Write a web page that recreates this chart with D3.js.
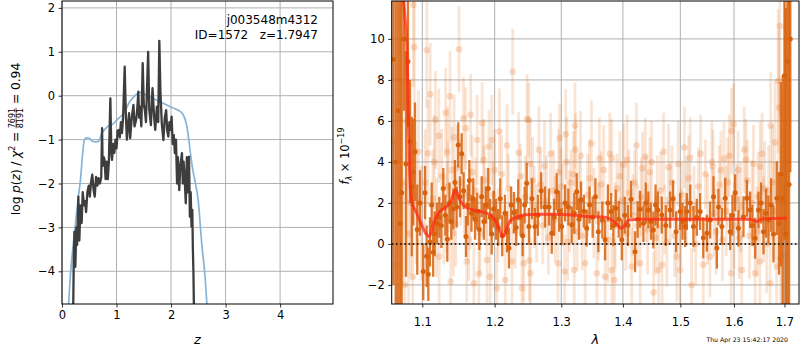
<!DOCTYPE html>
<html>
<head>
<meta charset="utf-8">
<script src="https://cdn.jsdelivr.net/npm/d3@7"></script>
<style>
body { margin: 0; background: #fff; }
svg { font-family: "DejaVu Sans", sans-serif; }
</style>
</head>
<body>
<svg id="chart" width="800" height="350"></svg>
<script>
// ---- left panel: p(z) ----
var zTicks = [0, 1, 2, 3, 4];
var pTicks = [-4, -3, -2, -1, 0, 1, 2];

// chi2 curve (blue)
var chiZ = [0.10, 0.16, 0.24, 0.30, 0.34, 0.38, 0.41, 0.45, 0.50, 0.56,
            0.62, 0.67, 0.73, 0.83, 0.92, 1.01, 1.13, 1.25, 1.32, 1.40,
            1.46, 1.52, 1.61, 1.70, 1.80, 1.90, 1.98, 2.08, 2.17, 2.24,
            2.29, 2.32, 2.36, 2.40, 2.44, 2.50, 2.56, 2.62, 2.68];
var chiP = [-5.2, -4.0, -3.0, -2.3, -1.9, -1.3, -1.0, -0.96, -0.97, -1.04,
            -1.05, -1.04, -0.86, -0.71, -0.66, -0.55, -0.4, -0.12, -0.02, 0.06,
            0.08, 0.03, -0.03, -0.08, -0.14, -0.2, -0.25, -0.3, -0.36, -0.48,
            -0.7, -0.95, -1.35, -1.7, -1.95, -2.41, -3.33, -4.08, -5.2];

// log p(z) (dark)
var pzZ = [0.205, 0.215, 0.228, 0.245, 0.262, 0.278, 0.300, 0.318, 0.338, 0.360,
           0.380, 0.405, 0.425, 0.442, 0.465, 0.490, 0.510, 0.535, 0.555, 0.580,
           0.600, 0.625, 0.650, 0.670, 0.695, 0.720, 0.735, 0.745, 0.765, 0.780,
           0.800, 0.820, 0.840, 0.860, 0.887, 0.905, 0.917, 0.940, 0.960, 0.980,
           1.000, 1.020, 1.040, 1.060, 1.080, 1.100, 1.120, 1.150, 1.170, 1.190,
           1.210, 1.230, 1.250, 1.280, 1.310, 1.330, 1.360, 1.380, 1.400, 1.415,
           1.430, 1.455, 1.480, 1.500, 1.520, 1.540, 1.560, 1.580, 1.600, 1.630,
           1.660, 1.690, 1.710, 1.740, 1.765, 1.785, 1.805, 1.830, 1.860, 1.885,
           1.910, 1.930, 1.950, 1.970, 1.990, 2.010, 2.030, 2.050, 2.070, 2.090,
           2.110, 2.125, 2.150, 2.170, 2.200, 2.215, 2.230, 2.250, 2.270, 2.290,
           2.310, 2.330, 2.345, 2.360, 2.375, 2.390, 2.400, 2.410, 2.420];
var pzP = [-4.9, -3.8, -3.1, -3.9, -3.0, -3.4, -2.3, -3.3, -2.5, -2.9,
           -2.2, -2.5, -2.4, -2.65, -2.2, -2.05, -2.3, -1.95, -1.8, -2.15,
           -2.3, -1.85, -2.05, -1.88, -2.0, -1.85, -0.74, -1.6, -1.4, -1.46,
           -1.9, -1.5, -1.9, -1.5, -0.06, -1.3, -1.46, -1.1, -1.3, -1.0,
           -1.2, -0.8, -0.78, -0.95, -0.6, -0.85, -0.5, 0.66, -0.4, -1.0,
           -0.7, -0.4, -0.97, -0.5, -0.21, -0.7, -0.55, -0.3, 0.09, -0.5,
           -0.25, -0.7, 0.74, -0.2, -0.33, -0.6, 0.2, 1.0, -0.3, -0.67,
           0.17, -0.5, -0.78, -0.25, -0.6, 1.25, 0.1, -0.63, -1.01, -0.5,
           -0.33, -0.8, -0.93, -0.6, -0.78, -0.48, -1.1, -0.9, -1.31, -1.0,
           -2.0, -1.4, -2.15, -1.6, -1.31, -2.0, -1.5, -1.9, -2.45, -1.4,
           -2.2, -1.39, -2.76, -2.2, -2.98, -2.6, -3.48, -4.0, -4.9];

// ---- right panel: spectrum ----
var lamTicks = [1.1, 1.2, 1.3, 1.4, 1.5, 1.6, 1.7];
var fTicks = [-2, 0, 2, 4, 6, 8, 10];

var darkWave = [
  1.0625, 1.0655, 1.0685, 1.0712, 1.0731, 1.0760, 1.0787, 1.0812, 1.0840, 1.0862,
  1.0881, 1.0904, 1.0934, 1.0970, 1.1013, 1.1036, 1.1058, 1.1080, 1.1102, 1.1125,
  1.1145, 1.1165, 1.1195, 1.1227, 1.1255, 1.1281, 1.1310, 1.1336, 1.1365, 1.1390,
  1.1418, 1.1440, 1.1464, 1.1486, 1.1510, 1.1533, 1.1560, 1.1593, 1.1618, 1.1640,
  1.1670, 1.1695, 1.1720, 1.1750, 1.1780, 1.1814, 1.1845, 1.1875, 1.1908, 1.1935,
  1.1957, 1.1985, 1.2019, 1.2050, 1.2080, 1.2110, 1.2149, 1.2180, 1.2208, 1.2240,
  1.2281, 1.2315, 1.2345, 1.2380, 1.2410, 1.2440, 1.2471, 1.2505, 1.2550, 1.2595,
  1.2640, 1.2690, 1.2749, 1.2810, 1.2852, 1.2890, 1.2929, 1.2968, 1.3007, 1.3060,
  1.3111, 1.3165, 1.3205, 1.3244, 1.3280, 1.3313, 1.3360, 1.3404, 1.3450, 1.3500,
  1.3545, 1.3593, 1.3658, 1.3703, 1.3750, 1.3802, 1.3840, 1.3880, 1.3930, 1.3981,
  1.4030, 1.4085, 1.4138, 1.4206, 1.4250, 1.4292, 1.4349, 1.4390, 1.4435, 1.4480,
  1.4522, 1.4560, 1.4599, 1.4670, 1.4740, 1.4817, 1.4870, 1.4925, 1.4997, 1.5040,
  1.5088, 1.5118, 1.5180, 1.5238, 1.5300, 1.5362, 1.5420, 1.5486, 1.5548, 1.5610,
  1.5673, 1.5704, 1.5768, 1.5831, 1.5926, 1.5970, 1.6022, 1.6086, 1.6183, 1.6250,
  1.6314, 1.6360, 1.6412, 1.6478, 1.6530, 1.6577, 1.6630, 1.6677, 1.6730, 1.6777,
  1.6846, 1.6890, 1.6927, 1.6965, 1.7000, 1.7030, 1.7062, 1.7095, 1.7120];
var darkFlux = [
  9.0, 4.0, 6.5, 1.0, 2.5, 10.0, 3.9, 8.9, 5.0, 2.8,
  3.5, 4.5, 0.7, 2.0, -1.35, 2.5, -0.6, -1.48, 0.1, 1.9,
  -0.4, 0.5, 1.0, 1.3, 0.9, 2.7, 1.4, 0.23, 2.0, 1.1,
  1.7, 3.0, 1.8, 4.83, 2.3, 4.4, 2.6, 0.36, 1.9, 3.1,
  1.5, 2.2, 1.2, 1.6, 0.7, 2.3, 1.1, 1.9, 2.7, 1.3,
  0.49, 1.7, 1.2, 0.8, 2.2, 0.4, 1.5, 0.6, -0.2, 1.9,
  1.53, 0.8, 2.15, 1.3, 0.4, 1.9, 2.96, 0.85, 2.2, 0.85,
  1.4, 2.6, 1.8, 1.8, 0.52, 1.3, 2.55, 1.6, 0.85, 2.0,
  1.8, 0.93, 1.5, 2.55, 1.2, 2.15, 1.6, 0.77, 1.9, 1.3,
  2.3, 0.6, 1.17, 0.2, 2.0, 1.58, 0.9, 1.74, 1.2, 0.2,
  1.4, 0.9, 2.18, -0.38, 1.2, 1.69, 1.0, 2.0, 1.66, 1.1,
  0.68, 1.9, 1.66, 1.41, 0.9, 1.66, 2.2, 0.6, 1.58, 1.1,
  0.85, 1.58, 2.0, 0.85, 1.3, 1.58, 0.3, 0.52, 1.17, 2.3,
  -0.2, 1.8, 0.85, 2.23, 0.6, 1.4, 2.5, 0.77, 1.33, 2.23,
  1.66, 0.9, 0.28, 1.66, 2.0, 0.6, 1.5, 1.17, 1.9, 0.49,
  2.23, 1.0, 3.4, 2.2, 8.2, 0.5, 8.9, 2.9, 10.0];
var darkErr = [
  11, 13, 10, 12, 10, 3.5, 5.5, 3.2, 3.0, 3.4,
  2.6, 2.4, 2.2, 1.6, 1.4, 1.3, 1.5, 1.3, 1.2, 1.1,
  1.2, 1.1, 1.0, 1.0, 1.1, 1.0, 1.0, 1.1, 1.0, 0.9,
  1.0, 1.1, 1.0, 1.1, 1.0, 1.0, 0.9, 1.0, 1.0, 1.0,
  0.9, 1.0, 1.0, 0.9, 1.0, 1.0, 0.9, 0.9, 1.0, 0.9,
  1.0, 0.9, 1.0, 0.9, 1.0, 1.0, 0.9, 1.0, 1.0, 0.9,
  1.0, 0.9, 1.0, 0.9, 1.0, 0.9, 1.0, 0.9, 1.0, 0.9,
  1.0, 0.9, 1.0, 0.9, 1.0, 0.9, 0.9, 1.0, 0.9, 0.9,
  0.9, 0.9, 1.0, 0.9, 1.0, 0.9, 0.8, 0.9, 0.9, 1.0,
  0.9, 1.0, 0.9, 1.0, 0.9, 0.9, 1.0, 0.9, 0.9, 1.0,
  0.9, 1.0, 0.9, 1.0, 0.9, 0.9, 0.9, 1.0, 0.9, 0.9,
  0.9, 1.0, 0.9, 0.9, 1.0, 0.9, 0.9, 1.0, 0.9, 0.9,
  1.0, 0.9, 0.9, 1.0, 0.9, 0.9, 1.0, 0.9, 0.9, 1.0,
  1.0, 0.9, 0.9, 1.0, 0.9, 1.0, 0.9, 0.9, 1.0, 0.9,
  0.9, 1.0, 1.0, 0.9, 1.0, 1.1, 1.2, 1.2, 1.3, 1.4,
  1.8, 2.5, 4.5, 6, 8, 11, 12, 15, 6.5];

var faintWave = [
  1.0630, 1.0660, 1.0700, 1.0740, 1.0770, 1.0800, 1.0820, 1.0850, 1.0875, 1.0883,
  1.0896, 1.0920, 1.0948, 1.0985, 1.1040, 1.1061, 1.1075, 1.1106, 1.1140, 1.1175,
  1.1190, 1.1221, 1.1224, 1.1260, 1.1290, 1.1313, 1.1337, 1.1350, 1.1373, 1.1382,
  1.1400, 1.1419, 1.1428, 1.1450, 1.1497, 1.1520, 1.1558, 1.1570, 1.1590, 1.1604,
  1.1630, 1.1659, 1.1680, 1.1704, 1.1730, 1.1751, 1.1774, 1.1790, 1.1820, 1.1850,
  1.1880, 1.1889, 1.1917, 1.1935, 1.1959, 1.1980, 1.2030, 1.2050, 1.2069, 1.2100,
  1.2153, 1.2200, 1.2253, 1.2263, 1.2300, 1.2352, 1.2380, 1.2402, 1.2426, 1.2450,
  1.2478, 1.2501, 1.2511, 1.2526, 1.2560, 1.2620, 1.2680, 1.2740, 1.2800, 1.2880,
  1.2949, 1.2960, 1.2974, 1.3020, 1.3054, 1.3070, 1.3100, 1.3150, 1.3205, 1.3216,
  1.3225, 1.3280, 1.3330, 1.3378, 1.3450, 1.3520, 1.3568, 1.3610, 1.3640, 1.3703,
  1.3750, 1.3812, 1.3815, 1.3855, 1.3900, 1.3950, 1.4012, 1.4050, 1.4100, 1.4148,
  1.4200, 1.4250, 1.4294, 1.4333, 1.4381, 1.4400, 1.4460, 1.4527, 1.4560, 1.4614,
  1.4650, 1.4674, 1.4720, 1.4789, 1.4850, 1.4900, 1.4937, 1.4995, 1.5030, 1.5074,
  1.5150, 1.5205, 1.5280, 1.5330, 1.5420, 1.5460, 1.5544, 1.5600, 1.5620, 1.5720,
  1.5780, 1.5809, 1.5880, 1.5946, 1.5952, 1.5994, 1.6050, 1.6100, 1.6150, 1.6198,
  1.6260, 1.6350, 1.6410, 1.6450, 1.6505, 1.6510, 1.6600, 1.6640, 1.6708, 1.6722,
  1.6760, 1.6808, 1.6841, 1.6873, 1.6887, 1.6907, 1.6920, 1.6950, 1.7000, 1.7040,
  1.2525, 1.2585, 1.2655, 1.2715, 1.2770, 1.2835, 1.2905, 1.2995, 1.3085, 1.3130,
  1.3190, 1.3250, 1.3305, 1.3420, 1.3480, 1.3595, 1.3680, 1.3780, 1.3870, 1.3975,
  1.4070, 1.4170, 1.4230, 1.4310, 1.4420, 1.4490, 1.4590, 1.4700, 1.4760, 1.4820,
  1.4960, 1.5010, 1.5110, 1.5180, 1.5250, 1.5370, 1.5500, 1.5580, 1.5660, 1.5750,
  1.5850, 1.5910, 1.6000, 1.6080, 1.6130, 1.6230, 1.6300, 1.6380, 1.6470, 1.6550,
  1.6580, 1.6680, 1.6790, 1.1160, 1.1330, 1.1470, 1.1650, 1.1840, 1.2000, 1.2180];
var faintFlux = [
  5.0, -1.0, 8.0, 3.0, -2.0, 6.0, 0.5, 2.0, -1.6, 11.65,
  9.6, 2.0, 4.5, 1.0, 3.0, 9.45, 4.42, 7.3, 2.2, 6.05,
  0.8, 5.27, -0.62, 3.3, 1.2, 6.4, 4.5, 2.8, 7.2, -1.84,
  3.6, 0.52, 5.2, 1.0, 9.5, 3.0, 6.13, 2.4, 5.64, -0.86,
  0.2, 6.3, 3.5, -1.92, 2.6, 5.07, -1.46, 0.5, 5.89, 3.1,
  1.8, -0.78, 4.75, -1.6, 5.07, 2.4, -2.16, 0.9, 5.48, 3.4,
  -1.76, 2.7, -0.86, 8.4, 0.6, 4.45, 3.3, -2.16, -0.94, 2.3,
  6.08, 6.05, -0.81, -1.43, 3.1, 1.0, 2.9, 3.8, 0.3, 2.6,
  -0.94, 3.5, 5.15, 1.9, -1.35, 5.35, 0.1, 3.0, -1.27, 5.77,
  4.59, 2.2, 0.4, -0.94, 3.2, 1.5, -1.43, 4.18, 2.9, -1.6,
  0.2, 4.18, -1.27, -1.76, 2.7, 3.3, 3.87, 0.5, 2.5, -1.1,
  3.0, 0.9, -0.94, 3.69, 4.26, 2.2, 3.5, -2.37, 0.3, -1.27,
  2.6, -1.02, 1.2, 3.74, 3.0, 0.4, -0.62, -1.27, 2.4, 4.7,
  3.2, -2.0, 0.0, 2.8, -1.02, 3.4, -0.62, 3.77, 1.5, 2.9,
  0.2, 4.15, 3.0, -1.43, 5.51, 5.84, 2.2, 0.3, -1.27, 4.59,
  3.1, 2.0, -1.43, 0.6, -0.86, 3.77, 2.7, 0.0, -1.92, 5.77,
  3.0, 4.96, -1.1, 7.95, 6.65, 10.63, -0.7, 2.0, -0.5, 4.0,
  3.9, 1.8, 4.6, 0.9, 2.1, 4.4, 1.2, 2.8, 4.0, 1.6,
  3.4, 0.6, 4.3, 2.4, 4.9, 1.1, 3.6, 4.4, 0.9, 2.1,
  4.1, 1.4, 4.8, 2.3, 0.7, 4.0, 2.2, 4.5, 0.1, 2.0,
  3.9, 0.8, 2.1, 4.2, 1.7, 4.4, 1.2, 4.0, 0.6, 3.6,
  1.6, 4.3, 0.9, 3.6, 1.8, 4.1, 0.4, 3.9, 2.3, 4.4,
  1.2, 2.6, 1.6, 4.0, 1.8, 3.7, 1.7, 4.1, 3.6, 4.8];
var faintErr = [
  7, 8, 6, 5, 5, 4, 4, 3.5, 3, 4,
  3.5, 3, 3, 2.8, 2.6, 2.8, 2.6, 2.5, 2.4, 2.4,
  2.4, 2.3, 2.3, 2.3, 2.2, 2.2, 2.2, 2.2, 2.2, 2.2,
  2.1, 2.1, 2.1, 2.1, 2.1, 2.1, 2.0, 2.0, 2.0, 2.0,
  2.0, 2.0, 1.8, 2.0, 1.6, 2.2, 1.8, 2.0, 2.0, 1.7,
  1.9, 2.1, 1.8, 2.0, 2.2, 1.6, 2.0, 1.8, 2.1, 1.9,
  2.0, 1.7, 2.2, 2.1, 1.8, 2.0, 1.6, 2.1, 1.9, 2.0,
  2.2, 1.8, 2.0, 1.7, 2.1, 1.9, 1.6, 2.2, 1.8, 2.0,
  1.9, 2.1, 1.7, 2.0, 1.8, 2.2, 1.9, 1.6, 2.0, 2.1,
  1.8, 2.0, 1.7, 2.1, 1.9, 2.2, 1.8, 2.0, 1.6, 2.0,
  2.1, 1.9, 1.8, 2.0, 1.7, 2.2, 2.0, 1.8, 2.1, 1.9,
  1.6, 2.0, 2.2, 1.8, 1.9, 2.1, 1.7, 2.0, 1.8, 2.2,
  1.9, 2.0, 1.7, 2.1, 1.8, 2.0, 2.2, 1.9, 1.6, 2.0,
  2.1, 1.8, 2.0, 1.9, 2.2, 1.7, 2.0, 1.8, 2.1, 1.9,
  2.0, 1.8, 2.2, 1.9, 2.1, 2.0, 1.7, 2.0, 1.9, 2.1,
  2.0, 2.1, 2.1, 2.2, 2.2, 2.2, 2.3, 2.4, 2.6, 2.6,
  2.8, 3.0, 3.2, 3.5, 3.8, 4.5, 4.5, 5, 6, 8,
  2.2, 2.0, 2.1, 1.9, 2.2, 2.0, 2.1, 1.9, 2.2, 2.0,
  2.1, 1.9, 2.2, 2.0, 2.1, 1.9, 2.2, 2.0, 2.1, 1.9,
  2.2, 2.0, 2.1, 1.9, 2.2, 2.0, 2.1, 1.9, 2.2, 2.0,
  2.1, 1.9, 2.2, 2.0, 2.1, 1.9, 2.2, 2.0, 2.1, 1.9,
  2.2, 2.0, 2.1, 1.9, 2.2, 2.0, 2.1, 1.9, 2.2, 2.0,
  2.1, 2.2, 2.4, 2.3, 2.2, 2.1, 2.0, 2.0, 2.0, 2.0];

// best-fit model (red)
var modelWave = [1.0740, 1.0775, 1.0798, 1.0814, 1.0830, 1.0845, 1.0865, 1.0900, 1.0950, 1.1000,
                 1.1050, 1.1093, 1.1130, 1.1170, 1.1236, 1.1300, 1.1380, 1.1451, 1.1500, 1.1580,
                 1.1700, 1.1800, 1.1886, 1.1960, 1.2030, 1.2080, 1.2124, 1.2170, 1.2230, 1.2320,
                 1.2450, 1.2700, 1.3000, 1.3485, 1.3700, 1.3850, 1.3980, 1.4050, 1.4100, 1.4300,
                 1.5000, 1.5700, 1.6300, 1.6400, 1.6445, 1.6500, 1.6700, 1.7050];
var modelFlux = [12.5, 11.0, 9.7, 6.8, 4.0, 2.6, 2.0, 1.7, 1.3, 0.85,
                 0.5, 0.36, 0.75, 1.2, 1.58, 1.75, 2.05, 2.63, 2.2, 1.82,
                 1.65, 1.58, 1.5, 1.35, 1.0, 0.6, 0.36, 0.7, 1.15, 1.3,
                 1.42, 1.45, 1.44, 1.33, 1.3, 1.1, 0.77, 1.0, 1.17, 1.2,
                 1.2, 1.21, 1.2, 1.13, 1.09, 1.18, 1.24, 1.25];

var svg = d3.select('#chart');
var gridColor = '#b0b0b0';
var tickFont = 11.5;

function drawGrid(g, x, y, xt, yt, box) {
    g.append('g').selectAll('line').data(xt).enter().append('line')
        .attr('x1', function(d) { return x(d); }).attr('x2', function(d) { return x(d); })
        .attr('y1', box.top).attr('y2', box.bottom)
        .attr('stroke', gridColor).attr('stroke-width', 1);
    g.append('g').selectAll('line').data(yt).enter().append('line')
        .attr('y1', function(d) { return y(d); }).attr('y2', function(d) { return y(d); })
        .attr('x1', box.left).attr('x2', box.right)
        .attr('stroke', gridColor).attr('stroke-width', 1);
}

function drawTicks(g, x, y, xt, yt, box, xfmt, yfmt, xpad) {
    var ax = g.append('g').attr('transform', 'translate(0,' + box.bottom + ')')
        .call(d3.axisBottom(x).tickValues(xt).tickFormat(xfmt).tickSizeInner(3.5).tickSizeOuter(0).tickPadding(xpad));
    var ay = g.append('g').attr('transform', 'translate(' + box.left + ',0)')
        .call(d3.axisLeft(y).tickValues(yt).tickFormat(yfmt).tickSizeInner(3.5).tickSizeOuter(0).tickPadding(3.5));
    [ax, ay].forEach(function(a) {
        a.select('.domain').remove();
        a.attr('font-size', tickFont).attr('font-family', '"DejaVu Sans", sans-serif');
        a.selectAll('line').attr('stroke', '#000').attr('stroke-width', 0.8);
        a.selectAll('text').attr('fill', '#000');
    });
    g.append('rect').attr('x', box.left).attr('y', box.top)
        .attr('width', box.right - box.left).attr('height', box.bottom - box.top)
        .attr('fill', 'none').attr('stroke', '#000').attr('stroke-width', 1);
}

function fmtMinus(d) { return d < 0 ? '\u2212' + Math.abs(d) : String(d); }

// rotated label made of pieces: {t, it, s, dy} or {gap} or {frac:[num, den]}
function mathLabel(px, py, fs, pieces) {
    var g = svg.append('g').attr('transform', 'translate(' + px + ',' + py + ') rotate(-90)');
    var inner = g.append('g');
    var cx = 0;
    pieces.forEach(function(p) {
        if (p.gap !== undefined) { cx += p.gap; return; }
        if (p.frac) {
            var n = inner.append('text').attr('font-size', 8).text(p.frac[0]);
            var dd = inner.append('text').attr('font-size', 8).text(p.frac[1]);
            var w = Math.max(n.node().getComputedTextLength(), dd.node().getComputedTextLength());
            n.attr('x', cx + w / 2).attr('y', -5.5).attr('text-anchor', 'middle');
            dd.attr('x', cx + w / 2).attr('y', 2.5).attr('text-anchor', 'middle');
            inner.append('line').attr('x1', cx).attr('x2', cx + w).attr('y1', -3.9).attr('y2', -3.9)
                .attr('stroke', '#000').attr('stroke-width', 0.6);
            cx += w + 1;
            return;
        }
        var t = inner.append('text').attr('x', cx).attr('y', p.dy || 0)
            .attr('font-size', p.s || fs)
            .attr('font-style', p.it ? 'italic' : 'normal').text(p.t);
        cx += t.node().getComputedTextLength();
    });
    inner.attr('transform', 'translate(' + (-cx / 2) + ',0)');
}

// ---------------- left panel ----------------
var L = {left: 62, right: 333, top: 1, bottom: 304};
var xz = d3.scaleLinear().domain([0, 4.97]).range([L.left, L.right]);
var yp = d3.scaleLinear().domain([-4.745, 2.157]).range([L.bottom, L.top]);
var gl = svg.append('g');
drawGrid(gl, xz, yp, zTicks, pTicks, L);

svg.append('clipPath').attr('id', 'clipL').append('rect')
    .attr('x', L.left).attr('y', L.top).attr('width', L.right - L.left).attr('height', L.bottom - L.top);
var plotL = gl.append('g').attr('clip-path', 'url(#clipL)');

var chiLine = d3.line().x(function(d, i) { return xz(chiZ[i]); }).y(function(d) { return yp(d); })
    .curve(d3.curveMonotoneX);
plotL.append('path').datum(chiP).attr('d', chiLine)
    .attr('fill', 'none').attr('stroke', '#86b4d8').attr('stroke-width', 1.7);

var pzLine = d3.line().x(function(d, i) { return xz(pzZ[i]); }).y(function(d) { return yp(d); });
plotL.append('path').datum(pzP).attr('d', pzLine)
    .attr('fill', 'none').attr('stroke', '#3d3d3d').attr('stroke-width', 2.3)
    .attr('stroke-linejoin', 'round');

drawTicks(gl, xz, yp, zTicks, pTicks, L, function(d) { return d; }, fmtMinus, 3.5);

gl.append('text').attr('x', 318).attr('y', 24).attr('text-anchor', 'end')
    .attr('font-size', 12).text('j003548m4312');
gl.append('text').attr('x', 318).attr('y', 38.5).attr('text-anchor', 'end')
    .attr('font-size', 12).style('white-space', 'pre').text('ID=1572   z=1.7947');

svg.append('text').attr('x', (L.left + L.right) / 2).attr('y', 344).attr('text-anchor', 'middle')
    .attr('font-size', 13).attr('font-style', 'italic').text('z');

mathLabel(20, 139, 12.3, [
    {t: 'log'}, {gap: 3.5}, {t: 'p', it: 1}, {t: '('}, {t: 'z', it: 1}, {t: ')'}, {gap: 3.5},
    {t: '/'}, {gap: 3.5}, {t: '\u03c7', it: 1}, {t: '2', s: 8, dy: -5}, {gap: 3.5}, {t: '='}, {gap: 3.5},
    {frac: ['7691', '8191']}, {gap: 3}, {t: '='}, {gap: 3.5}, {t: '0.94'}
]);

// ---------------- right panel ----------------
var R = {left: 391.7, right: 799, top: 1, bottom: 304};
var xl = d3.scaleLog().domain([1.0603, 1.730]).range([R.left, R.right]);
var yf = d3.scaleLinear().domain([-2.93, 11.85]).range([R.bottom, R.top]);
var gr = svg.append('g');
drawGrid(gr, xl, yf, lamTicks, fTicks, R);

svg.append('clipPath').attr('id', 'clipR').append('rect')
    .attr('x', R.left).attr('y', R.top).attr('width', R.right - R.left).attr('height', R.bottom - R.top);
var plotR = gr.append('g').attr('clip-path', 'url(#clipR)');

var faintIdx = d3.range(faintWave.length);
var darkIdx = d3.range(darkWave.length);
var faintCol = '#e8792a';
var darkCol = '#d8620c';

plotR.append('g').selectAll('line').data(faintIdx).enter().append('line')
    .attr('x1', function(i) { return xl(faintWave[i]); }).attr('x2', function(i) { return xl(faintWave[i]); })
    .attr('y1', function(i) { return yf(faintFlux[i] - faintErr[i]); })
    .attr('y2', function(i) { return yf(faintFlux[i] + faintErr[i]); })
    .attr('stroke', faintCol).attr('stroke-opacity', 0.2).attr('stroke-width', 2.8);
plotR.append('g').selectAll('circle').data(faintIdx).enter().append('circle')
    .attr('cx', function(i) { return xl(faintWave[i]); })
    .attr('cy', function(i) { return yf(faintFlux[i]); })
    .attr('r', 3.3).attr('fill', faintCol).attr('fill-opacity', 0.25);

plotR.append('g').selectAll('line').data(darkIdx).enter().append('line')
    .attr('x1', function(i) { return xl(darkWave[i]); }).attr('x2', function(i) { return xl(darkWave[i]); })
    .attr('y1', function(i) { return yf(darkFlux[i] - darkErr[i]); })
    .attr('y2', function(i) { return yf(darkFlux[i] + darkErr[i]); })
    .attr('stroke', darkCol).attr('stroke-opacity', 0.85).attr('stroke-width', 2.3);
plotR.append('g').selectAll('circle').data(darkIdx).enter().append('circle')
    .attr('cx', function(i) { return xl(darkWave[i]); })
    .attr('cy', function(i) { return yf(darkFlux[i]); })
    .attr('r', 2.5).attr('fill', darkCol);

var modelLine = d3.line().x(function(d, i) { return xl(modelWave[i]); }).y(function(d) { return yf(d); })
    .curve(d3.curveMonotoneX);
plotR.append('path').datum(modelFlux).attr('d', modelLine)
    .attr('fill', 'none').attr('stroke', '#ff2a14').attr('stroke-opacity', 0.75).attr('stroke-width', 3);

plotR.append('line').attr('x1', R.left).attr('x2', R.right).attr('y1', yf(0)).attr('y2', yf(0))
    .attr('stroke', '#000').attr('stroke-width', 1.6).attr('stroke-dasharray', '1.6,2.6');

drawTicks(gr, xl, yf, lamTicks, fTicks, R, d3.format('.1f'), fmtMinus, 10);

svg.append('text').attr('x', (R.left + R.right) / 2).attr('y', 344).attr('text-anchor', 'middle')
    .attr('font-size', 13).attr('font-style', 'italic').text('\u03bb');

mathLabel(349, 156, 11.5, [
    {t: 'f', it: 1}, {t: '\u03bb', it: 1, s: 8, dy: 3}, {gap: 3.5}, {t: '\u00d7'}, {gap: 3.5},
    {t: '10'}, {t: '\u221219', s: 8, dy: -5}
]);

svg.append('text').attr('x', 788).attr('y', 342).attr('text-anchor', 'end')
    .attr('font-size', 6.2).text('Thu Apr 23 15:42:17 2020');
</script>
</body>
</html>
